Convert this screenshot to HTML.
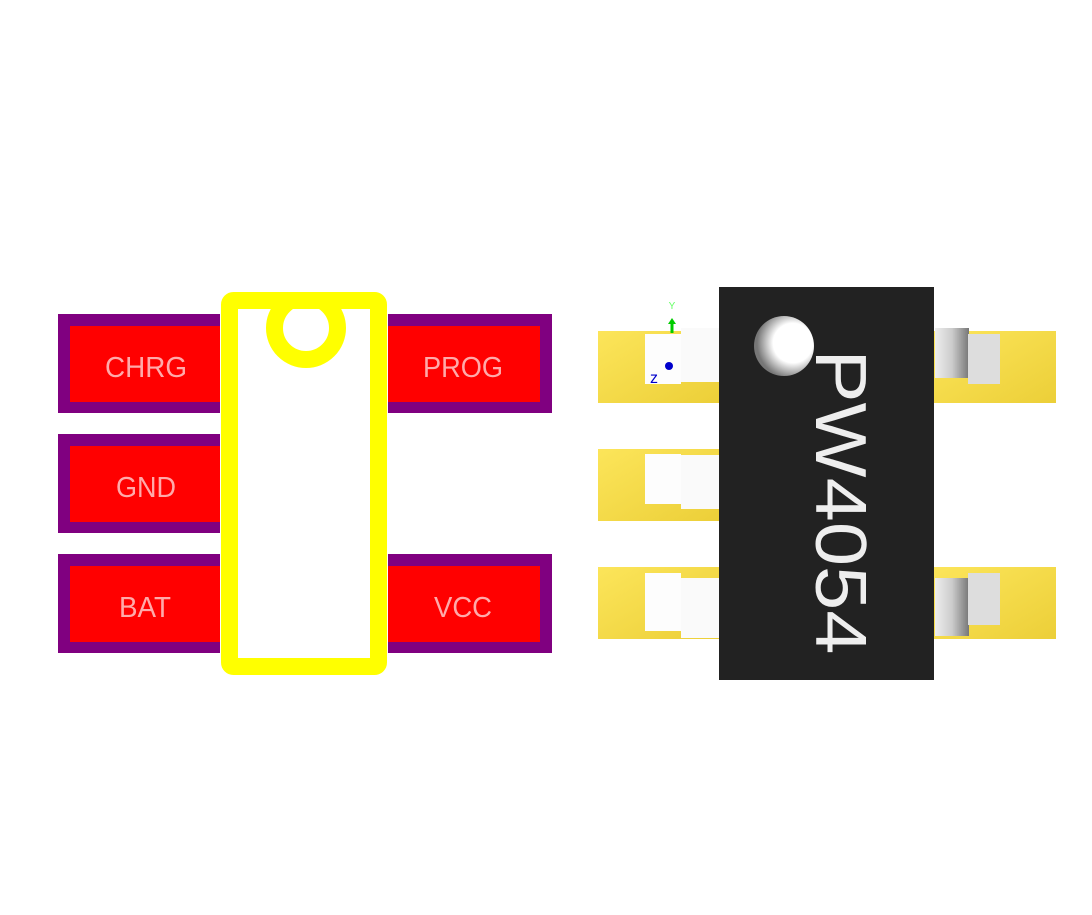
<!DOCTYPE html>
<html><head><style>
body{margin:0;background:#fff;}
</style></head><body>
<svg width="1092" height="910" viewBox="0 0 1092 910" xmlns="http://www.w3.org/2000/svg">
<defs>
<linearGradient id="gy" x1="0" y1="0" x2="1" y2="1">
<stop offset="0" stop-color="#fce55a"/><stop offset="1" stop-color="#eccf38"/>
</linearGradient>
<linearGradient id="leadr" x1="0" x2="1">
<stop offset="0" stop-color="#eee"/><stop offset="0.5" stop-color="#ccc"/><stop offset="1" stop-color="#777"/>
</linearGradient>
<radialGradient id="ball" cx="0.65" cy="0.45" r="0.6">
<stop offset="0.55" stop-color="#fff"/><stop offset="1" stop-color="#777"/>
</radialGradient>
<clipPath id="cl"><rect x="220" y="300" width="170" height="380"/></clipPath>
</defs>
<g>
<rect x="58" y="314" width="162" height="99" fill="#800080"/><rect x="70" y="326" width="150" height="76" fill="#f00"/>
<rect x="58" y="434" width="162" height="99" fill="#800080"/><rect x="70" y="446" width="150" height="76" fill="#f00"/>
<rect x="58" y="554" width="162" height="99" fill="#800080"/><rect x="70" y="566" width="150" height="76" fill="#f00"/>
<rect x="388" y="314" width="164" height="99" fill="#800080"/><rect x="388" y="326" width="152" height="76" fill="#f00"/>
<rect x="388" y="554" width="164" height="99" fill="#800080"/><rect x="388" y="566" width="152" height="76" fill="#f00"/>
</g>
<g font-family="Liberation Sans, sans-serif" font-size="29" fill="#ffaaaa" text-anchor="middle">
<text x="146" y="377" textLength="82" lengthAdjust="spacingAndGlyphs">CHRG</text>
<text x="146" y="497" textLength="60" lengthAdjust="spacingAndGlyphs">GND</text>
<text x="145" y="617" textLength="52" lengthAdjust="spacingAndGlyphs">BAT</text>
<text x="463" y="377" textLength="80" lengthAdjust="spacingAndGlyphs">PROG</text>
<text x="463" y="617" textLength="58" lengthAdjust="spacingAndGlyphs">VCC</text>
</g>
<rect x="229.5" y="300.5" width="149" height="366" rx="4" fill="#fff"/>
<circle cx="306" cy="328" r="31.5" fill="#fff" stroke="#ff0" stroke-width="17" clip-path="url(#cl)"/>
<rect x="229.5" y="300.5" width="149" height="366" rx="4" fill="none" stroke="#ff0" stroke-width="17"/>
<rect x="598" y="331" width="122" height="72" fill="url(#gy)"/>
<rect x="598" y="449" width="122" height="72" fill="url(#gy)"/>
<rect x="598" y="567" width="122" height="72" fill="url(#gy)"/>
<rect x="934" y="331" width="122" height="72" fill="url(#gy)"/>
<rect x="934" y="567" width="122" height="72" fill="url(#gy)"/>
<rect x="645" y="334" width="36" height="50" fill="#fdfdfd"/><rect x="681" y="328" width="38" height="54" fill="#fafafa"/>
<rect x="645" y="454" width="36" height="50" fill="#fdfdfd"/><rect x="681" y="455" width="38" height="54" fill="#fafafa"/>
<rect x="645" y="573" width="36" height="58" fill="#fdfdfd"/><rect x="681" y="578" width="38" height="60" fill="#fafafa"/>
<rect x="935" y="328" width="34" height="50" fill="url(#leadr)"/><rect x="968" y="334" width="32" height="50" fill="#ddd"/>
<rect x="935" y="578" width="34" height="58" fill="url(#leadr)"/><rect x="968" y="573" width="32" height="52" fill="#ddd"/>
<rect x="719" y="287" width="215" height="393" fill="#222"/>
<circle cx="784" cy="346" r="30" fill="url(#ball)"/>
<text x="0" y="0" transform="translate(816,502) rotate(90)" font-family="Liberation Sans, sans-serif" font-size="72" fill="#eee" text-anchor="middle" textLength="305" lengthAdjust="spacingAndGlyphs">PW4054</text>
<text x="672" y="309" font-family="Liberation Sans, sans-serif" font-size="10" fill="#6f6" text-anchor="middle">Y</text>
<line x1="672" y1="322" x2="672" y2="333" stroke="#0c0" stroke-width="3"/>
<polygon points="668,324 676,324 672,318" fill="#0c0"/>
<circle cx="669" cy="366" r="4" fill="#00c"/>
<text x="654" y="383" font-family="Liberation Sans, sans-serif" font-size="16" fill="#00c" text-anchor="middle">z</text>
</svg>
</body></html>
